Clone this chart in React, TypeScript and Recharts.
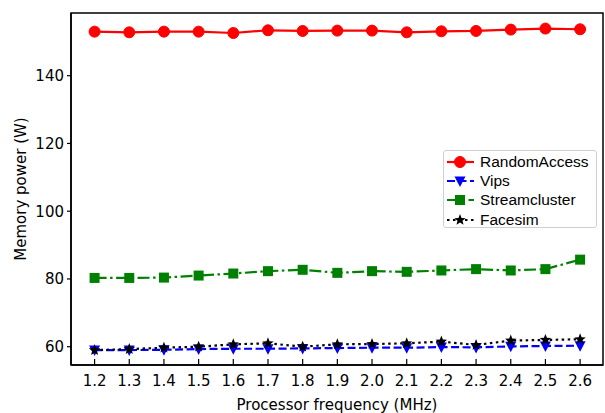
import React from 'react';
import { LineChart, Line, XAxis, YAxis, ReferenceArea } from 'recharts';

const frequencies = [1.2, 1.3, 1.4, 1.5, 1.6, 1.7, 1.8, 1.9, 2.0, 2.1, 2.2, 2.3, 2.4, 2.5, 2.6];
const randomAccess = [153.0, 152.8, 153.0, 153.0, 152.6, 153.4, 153.2, 153.3, 153.3, 152.8, 153.1, 153.2, 153.6, 153.9, 153.7];
const vips = [59.0, 59.0, 59.1, 59.3, 59.4, 59.4, 59.5, 59.6, 59.7, 59.7, 59.9, 59.8, 60.1, 60.2, 60.3];
const streamcluster = [80.3, 80.3, 80.4, 81.0, 81.6, 82.3, 82.7, 81.8, 82.3, 82.1, 82.5, 82.9, 82.5, 82.9, 85.7];
const facesim = [59.0, 59.3, 59.7, 60.0, 60.7, 61.0, 60.0, 60.7, 60.8, 61.0, 61.5, 60.5, 61.8, 62.0, 62.2];
const yTicks = [60, 80, 100, 120, 140];

const X_DOMAIN = [1.132, 2.666];
const Y_DOMAIN = [54.6, 158.5];

const data = frequencies.map((f, i) => ({
  freq: f,
  RandomAccess: randomAccess[i],
  Vips: vips[i],
  Streamcluster: streamcluster[i],
  Facesim: facesim[i],
}));

const FONT = 'DejaVu Sans, sans-serif';

// marker shapes, matplotlib style
function Marker({ kind, cx, cy, color }: { kind: string; cx: number; cy: number; color: string }) {
  if (kind === 'circle') return <circle cx={cx} cy={cy} r={5.5} fill={color} stroke={color} />;
  if (kind === 'square') return <rect x={cx - 5} y={cy - 5} width={10} height={10} fill={color} />;
  if (kind === 'tri') {
    return <path d={`M${cx - 5.5},${cy - 4.5} L${cx + 5.5},${cy - 4.5} L${cx},${cy + 6} Z`} fill={color} />;
  }
  // star
  const pts: string[] = [];
  for (let k = 0; k < 10; k++) {
    const r = k % 2 === 0 ? 6 : 2.6;
    const a = (Math.PI / 5) * k - Math.PI / 2;
    pts.push(`${cx + r * Math.cos(a)},${cy + r * Math.sin(a)}`);
  }
  return <polygon points={pts.join(' ')} fill={color} />;
}

const dotFor = (kind: string, color: string) => (props: any) => (
  <Marker key={`${kind}-${props.index}`} kind={kind} cx={props.cx} cy={props.cy} color={color} />
);

const series = [
  { key: 'RandomAccess', color: '#ff0000', dash: undefined, marker: 'circle' },
  { key: 'Vips', color: '#0000ff', dash: '8 3.5', marker: 'tri' },
  { key: 'Streamcluster', color: '#008000', dash: '12 3.5 2.5 3.5', marker: 'square' },
  { key: 'Facesim', color: '#000000', dash: '2.5 3.5', marker: 'star' },
];

const XTick = (props: any) => {
  const { x, y, payload } = props;
  return (
    <g>
      <line x1={x} y1={y} x2={x} y2={y - 6} stroke="#000" strokeWidth={1.2} />
      <text x={x} y={y + 21} textAnchor="middle" fontFamily={FONT} fontSize={15} fill="#000">
        {Number(payload.value).toFixed(1)}
      </text>
    </g>
  );
};

const LegendBox = () => (
  <div
    style={{
      position: 'absolute',
      left: 443,
      top: 150,
      border: '1px solid #cfcfcf',
      borderRadius: 3,
      background: 'rgba(255,255,255,0.85)',
      width: 154,
      height: 78,
      boxSizing: 'border-box',
      fontFamily: 'Liberation Sans, Arial, sans-serif',
      fontSize: 15.5,
      color: '#000',
      paddingTop: 1,
    }}
  >
    {series.map((s) => (
      <div key={s.key} style={{ display: 'flex', alignItems: 'center', height: 19.4 }}>
        <svg width={36} height={16} style={{ flexShrink: 0 }}>
          <line x1={3} y1={8} x2={30} y2={8} stroke={s.color} strokeWidth={2.2} strokeDasharray={s.dash} />
          <Marker kind={s.marker} cx={16} cy={8} color={s.color} />
        </svg>
        <span style={{ whiteSpace: 'nowrap', lineHeight: '16px' }}>{s.key}</span>
      </div>
    ))}
  </div>
);

export default function App() {
  return (
    <div style={{ position: 'absolute', left: 0, top: 0, width: 605, height: 413, background: '#fff', overflow: 'hidden' }}>
      <LineChart width={605} height={413} data={data} margin={{ top: 13, right: 2, left: 0, bottom: 0 }}>
        <XAxis
          dataKey="freq"
          type="number"
          domain={X_DOMAIN}
          ticks={frequencies}
          allowDataOverflow
          height={48}
          tickSize={0}
          tickMargin={0}
          tickLine={false}
          tick={<XTick />}
          axisLine={{ stroke: '#000', strokeWidth: 1.5 }}
          label={{
            value: 'Processor frequency (MHz)',
            position: 'insideBottom',
            offset: 3,
            fontFamily: FONT,
            fontSize: 15,
            fill: '#000',
          }}
        />
        <YAxis
          type="number"
          domain={Y_DOMAIN}
          ticks={yTicks}
          allowDataOverflow
          width={71}
          tickSize={4}
          tickMargin={3}
          tickLine={{ stroke: '#000', strokeWidth: 1.2 }}
          axisLine={{ stroke: '#000', strokeWidth: 1.5 }}
          tick={{ fontFamily: FONT, fontSize: 15, fill: '#000' }}
          label={{
            content: () => (
              <text
                x={26}
                y={189}
                transform="rotate(-90 26 189)"
                textAnchor="middle"
                fontFamily={FONT}
                fontSize={15}
                fill="#000"
              >
                Memory power (W)
              </text>
            ),
          }}
        />
        {/* frame around the plot area */}
        <ReferenceArea
          x1={X_DOMAIN[0]}
          x2={X_DOMAIN[1]}
          y1={Y_DOMAIN[0]}
          y2={Y_DOMAIN[1]}
          fill="none"
          fillOpacity={0}
          stroke="#000"
          strokeWidth={1.5}
          strokeOpacity={1}
          ifOverflow="visible"
        />
        {series.map((s) => (
          <Line
            key={s.key}
            dataKey={s.key}
            stroke={s.color}
            strokeWidth={2.2}
            strokeDasharray={s.dash}
            dot={dotFor(s.marker, s.color)}
            activeDot={false}
            isAnimationActive={false}
          />
        ))}
      </LineChart>
      <LegendBox />
    </div>
  );
}
